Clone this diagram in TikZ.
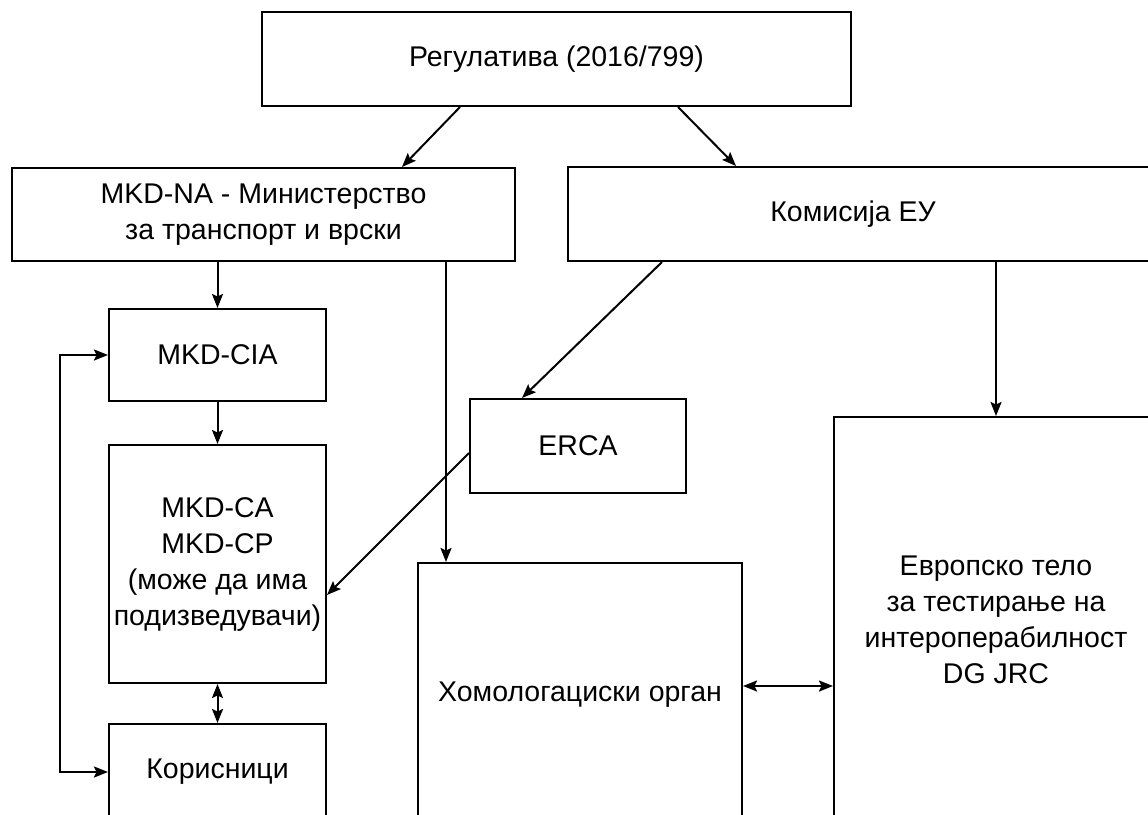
\documentclass[tikz,border=0pt]{standalone}
\usepackage{fontspec}
\setmainfont{Liberation Sans}
\usetikzlibrary{arrows.meta}
\begin{document}
\begin{tikzpicture}[x=1pt,y=-1pt,
  box/.style={draw, line width=2pt, inner sep=0pt, align=center,
    font=\fontsize{28.5}{36}\selectfont},
  arr/.style={line width=2pt, -{Stealth[length=14pt,width=11pt,inset=2.5pt]}},
  darr/.style={line width=2pt, {Stealth[length=14pt,width=11pt,inset=2.5pt]}-{Stealth[length=14pt,width=11pt,inset=2.5pt]}}]
\clip (0,0) rectangle (1148,814);
\fill[white] (0,0) rectangle (1148,814);

\node[box, minimum width=589pt, minimum height=94pt] (top) at (556.5,59) {Регулатива (2016/799)};
\node[box, minimum width=503pt, minimum height=93pt] (mkdna) at (263.5,214.5) {MKD-NA - Министерство\\за транспорт и врски};
\node[box, minimum width=592pt, minimum height=94pt] (kom) at (864,214) {\hspace*{-22pt}Комисија ЕУ};
\node[box, minimum width=217pt, minimum height=92pt] (cia) at (217.5,355) {MKD-CIA};
\node[box, minimum width=217pt, minimum height=238pt] (ca) at (217.5,564) {MKD-CA\\MKD-CP\\(може да има\\подизведувачи)};
\node[box, minimum width=217pt, minimum height=96pt] (kor) at (217.5,772) {Корисници};
\node[box, minimum width=216pt, minimum height=94pt] (erca) at (578,446) {ERCA};
\node[box, minimum width=324pt, minimum height=264pt] (homo) at (580,695) {Хомологациски орган};
\node[box, minimum width=324pt, minimum height=406pt] (euro) at (996,620) {Европско тело\\за тестирање на\\интероперабилност\\DG JRC};

\coordinate (hx) at ([xshift=29pt]homo.north west);
\coordinate (lx) at (60,0);

\draw[arr] ([xshift=199pt]top.south west) -- ([xshift=391pt]mkdna.north west);
\draw[arr] ([xshift=417pt]top.south west) -- ([xshift=169pt]kom.north west);
\draw[arr] (cia.north |- mkdna.south) -- (cia.north);
\draw[arr] (hx |- mkdna.south) -- (hx);
\draw[arr] ([xshift=95pt]kom.south west) -- ([xshift=53pt]erca.north west);
\draw[arr] (euro.north |- kom.south) -- (euro.north);
\draw[arr] (cia.south) -- (ca.north);
\draw[darr] (ca.south) -- (kor.north);
\draw[arr] ([yshift=-7pt]erca.west) -- ([yshift=-31pt]ca.east);
\draw[darr] (cia.west) -- (cia.west -| lx) -- (kor.west -| lx) -- (kor.west);
\draw[darr] ([yshift=9pt]homo.east) -- ([yshift=9pt]homo.east -| euro.west);
\end{tikzpicture}
\end{document}
